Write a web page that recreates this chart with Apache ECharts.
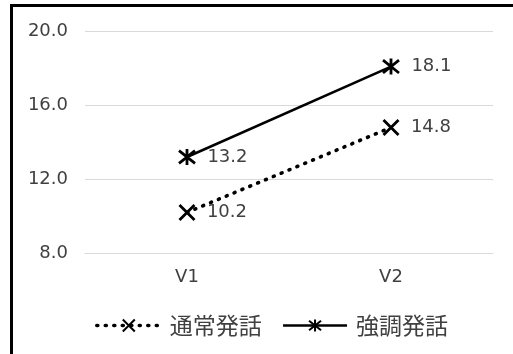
<!DOCTYPE html>
<html><head><meta charset="utf-8">
<script src="https://cdn.jsdelivr.net/npm/echarts@6/dist/echarts.min.js"></script>
<style>html,body{margin:0;padding:0;background:#fff}#c{width:513px;height:354px}</style>
</head><body><div id="c"></div>
<script>
const categories = ['V1', 'V2'];
const seriesNames = ['通常発話', '強調発話'];
const normalValues = [10.2, 14.8];
const emphasisValues = [13.2, 18.1];
const yTicks = { min: 8, max: 20, interval: 4 };

const crossPath = 'path://M0,0L10,10M10,0L0,10';
const starPath = 'path://M0,1L10,9M10,1L0,9M5,0L5,10';
const numFont = 'DejaVu Sans';
const cjkFont = 'Noto Sans CJK JP';
const dotted = { color: '#000', width: 3.6, type: [1, 7.5], cap: 'round' };

const chart = echarts.init(document.getElementById('c'), null, { renderer: 'canvas' });
chart.setOption({
  animation: false,
  backgroundColor: '#fff',
  graphic: [{
    type: 'rect', shape: { x: 11.5, y: 5.5, width: 600, height: 500 },
    style: { fill: 'none', stroke: '#000', lineWidth: 3 }, z: 100
  }],
  grid: { left: 85, right: 20, top: 31.5, bottom: 101, containLabel: false },
  xAxis: {
    type: 'category', data: categories, boundaryGap: true,
    axisLine: { show: true, lineStyle: { color: '#d9d9d9', width: 1 } },
    axisTick: { show: false },
    axisLabel: { margin: 15, fontFamily: numFont, fontSize: 18, color: '#404040' }
  },
  yAxis: {
    type: 'value', min: yTicks.min, max: yTicks.max, interval: yTicks.interval,
    axisLine: { show: false }, axisTick: { show: false },
    splitLine: { lineStyle: { color: '#d9d9d9', width: 1 } },
    axisLabel: { margin: 17, fontFamily: numFont, fontSize: 18, color: '#404040',
      formatter: v => v.toFixed(1) }
  },
  legend: {
    left: 90, top: 309, itemGap: 20, itemWidth: 64, itemHeight: 15,
    textStyle: { fontFamily: cjkFont, fontSize: 23, color: '#404040', padding: [0, 0, 0, 4] },
    data: [
      { name: seriesNames[0], lineStyle: dotted },
      { name: seriesNames[1], lineStyle: { color: '#000', width: 2.5, type: 'solid' } }
    ]
  },
  series: [
    {
      name: seriesNames[0], type: 'line', data: normalValues,
      symbol: crossPath, symbolSize: 15,
      lineStyle: dotted,
      itemStyle: { color: '#000', borderColor: '#000', borderWidth: 2.8 },
      label: { show: true, position: 'right', distance: 11, fontFamily: numFont, fontSize: 18, color: '#404040',
        formatter: p => p.value.toFixed(1) },
      emphasis: { disabled: true }
    },
    {
      name: seriesNames[1], type: 'line', data: emphasisValues,
      symbol: starPath, symbolSize: 16,
      lineStyle: { color: '#000', width: 2.5, type: 'solid' },
      itemStyle: { color: '#000', borderColor: '#000', borderWidth: 2.8 },
      label: { show: true, position: 'right', distance: 11, fontFamily: numFont, fontSize: 18, color: '#404040',
        formatter: p => p.value.toFixed(1) },
      emphasis: { disabled: true }
    }
  ]
});
</script></body></html>
